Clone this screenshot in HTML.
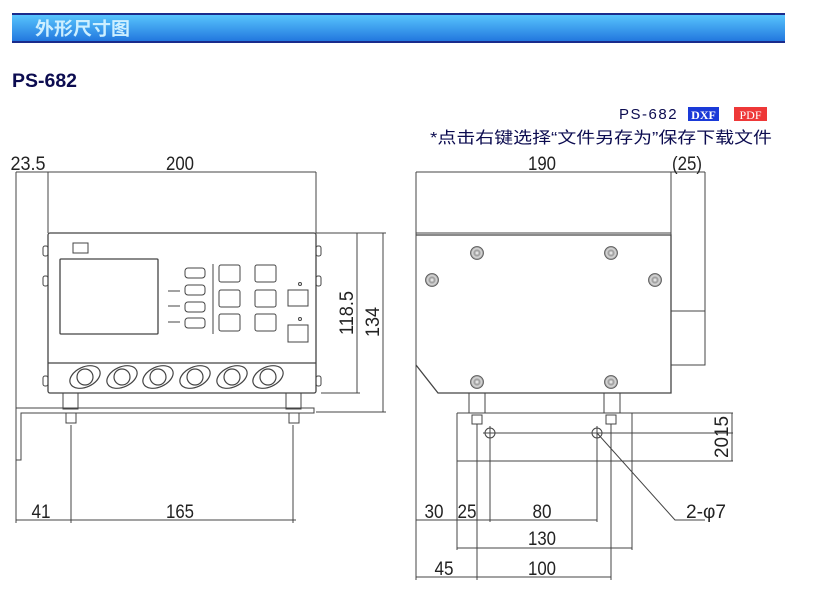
<!DOCTYPE html>
<html><head><meta charset="utf-8"><style>
body{margin:0;width:813px;height:590px;background:#fff;overflow:hidden;font-family:"Liberation Sans","Noto Sans CJK SC",sans-serif}
</style></head><body>
<svg width="813" height="590" xmlns="http://www.w3.org/2000/svg" style="position:absolute;left:0;top:0">
<defs>
<linearGradient id="hb" x1="0" y1="0" x2="0" y2="1">
<stop offset="0" stop-color="#5ccaff"/><stop offset="1" stop-color="#1e72dc"/></linearGradient>
<radialGradient id="sc"><stop offset="0" stop-color="#fff"/><stop offset="0.4" stop-color="#999"/><stop offset="0.7" stop-color="#ddd"/><stop offset="1" stop-color="#777"/></radialGradient>
</defs>
<rect x="12" y="13" width="773" height="30" fill="url(#hb)"/>
<rect x="12" y="13" width="773" height="2" fill="#1a2b8c"/>
<rect x="12" y="41" width="773" height="2" fill="#1a2b8c"/>
<text x="35" y="35" font-size="18" font-weight="bold" fill="#cdefff" textLength="95" lengthAdjust="spacingAndGlyphs" font-family="Liberation Sans,Noto Sans CJK SC,sans-serif">外形尺寸图</text>
<text x="12" y="87" font-size="19" font-weight="bold" fill="#0c0c50" textLength="65" lengthAdjust="spacingAndGlyphs">PS-682</text>
<text x="619" y="119" font-size="15" fill="#0c0c50" letter-spacing="1.5">PS-682</text>
<rect x="688" y="107" width="31" height="14" fill="#1a3ad8"/><text x="703.5" y="119" font-size="12" fill="#fff" font-weight="bold" text-anchor="middle" font-family="Liberation Serif,serif">DXF</text>
<rect x="734" y="107" width="33" height="14" fill="#ee3838"/><text x="750.5" y="119" font-size="12" fill="#fff" text-anchor="middle" font-family="Liberation Serif,serif">PDF</text>
<text x="430" y="143" font-size="16" fill="#0c0c50" textLength="342" lengthAdjust="spacingAndGlyphs" font-family="Liberation Sans,Noto Sans CJK SC,sans-serif">*点击右键选择“文件另存为”保存下载文件</text>

<g stroke="#444" stroke-width="1" fill="none">
<line x1="16" y1="172" x2="316" y2="172"/>
<line x1="16" y1="172" x2="16" y2="523"/>
<line x1="48" y1="172" x2="48" y2="233"/>
<line x1="316" y1="172" x2="316" y2="233"/>
<line x1="316" y1="233" x2="386" y2="233"/>
<line x1="321" y1="393" x2="360" y2="393"/>
<line x1="316" y1="412" x2="386" y2="412"/>
<line x1="357" y1="233" x2="357" y2="393"/>
<line x1="383" y1="233" x2="383" y2="412"/>
<line x1="16" y1="520" x2="296" y2="520"/>
<line x1="71" y1="425" x2="71" y2="523"/>
<line x1="293" y1="425" x2="293" y2="523"/>
<rect x="48" y="233" width="268" height="160" rx="2" stroke-width="1.3"/>
<line x1="48" y1="363" x2="316" y2="363" stroke-width="1.3"/>
<rect x="43" y="246" width="5" height="10" rx="2"/><rect x="43" y="276" width="5" height="10" rx="2"/><rect x="43" y="376" width="5" height="10" rx="2"/>
<rect x="316" y="246" width="5" height="10" rx="2"/><rect x="316" y="276" width="5" height="10" rx="2"/><rect x="316" y="376" width="5" height="10" rx="2"/>
<rect x="73" y="243" width="15" height="10"/>
<rect x="60" y="259" width="98" height="75" rx="1" stroke-width="1.3"/>
<rect x="185" y="268" width="20" height="10" rx="3"/><rect x="185" y="285" width="20" height="10" rx="3"/><rect x="185" y="302" width="20" height="10" rx="3"/><rect x="185" y="318" width="20" height="10" rx="3"/>
<line x1="168" y1="291" x2="180" y2="291"/><line x1="168" y1="306" x2="180" y2="306"/><line x1="168" y1="322" x2="180" y2="322"/>
<line x1="213" y1="264" x2="213" y2="334"/>
<rect x="219" y="265" width="21" height="17" rx="2"/><rect x="255" y="265" width="21" height="17" rx="2"/>
<rect x="219" y="290" width="21" height="17" rx="2"/><rect x="255" y="290" width="21" height="17" rx="2"/>
<rect x="219" y="314" width="21" height="17" rx="2"/><rect x="255" y="314" width="21" height="17" rx="2"/>
<rect x="288" y="290" width="20" height="16"/><rect x="288" y="325" width="20" height="17"/>
<circle cx="300" cy="284" r="1.5"/><circle cx="300" cy="319" r="1.5"/>
<g stroke-width="1.2">
<g transform="translate(85,377)"><ellipse rx="16" ry="10" transform="rotate(-25)"/><circle r="8"/></g>
<g transform="translate(122,377)"><ellipse rx="16" ry="10" transform="rotate(-25)"/><circle r="8"/></g>
<g transform="translate(158,377)"><ellipse rx="16" ry="10" transform="rotate(-25)"/><circle r="8"/></g>
<g transform="translate(195,377)"><ellipse rx="16" ry="10" transform="rotate(-25)"/><circle r="8"/></g>
<g transform="translate(232,377)"><ellipse rx="16" ry="10" transform="rotate(-25)"/><circle r="8"/></g>
<g transform="translate(268,377)"><ellipse rx="16" ry="10" transform="rotate(-25)"/><circle r="8"/></g>
</g>
<rect x="63" y="393" width="15" height="16"/><rect x="286" y="393" width="15" height="16"/>
<path d="M314 408 H16 V460 H21 V413 H314 Z"/>
<rect x="66" y="413" width="10" height="10"/><rect x="289" y="413" width="10" height="10"/>

<line x1="416" y1="172" x2="705" y2="172"/>
<line x1="416" y1="172" x2="416" y2="580"/>
<line x1="671" y1="172" x2="671" y2="393"/>
<line x1="705" y1="172" x2="705" y2="365"/>
<line x1="416" y1="233" x2="671" y2="233"/>
<path d="M416 235 H671 V393 H438 L416 365" stroke-width="1.3"/>
<rect x="671" y="311" width="34" height="54"/>
<rect x="469" y="393" width="16" height="20"/><rect x="604" y="393" width="16" height="20"/>
<line x1="457" y1="413" x2="733" y2="413"/>
<line x1="457" y1="461" x2="733" y2="461"/>
<line x1="457" y1="413" x2="457" y2="550"/>
<line x1="632" y1="413" x2="632" y2="550"/>
<rect x="472" y="415" width="10" height="9"/><rect x="606" y="415" width="10" height="9"/>
<line x1="477" y1="424" x2="477" y2="580"/>
<line x1="611" y1="424" x2="611" y2="580"/>
<circle cx="490" cy="433" r="5"/><line x1="483" y1="433" x2="733" y2="433"/><line x1="490" y1="426" x2="490" y2="522"/>
<circle cx="597" cy="433" r="5"/><line x1="597" y1="426" x2="597" y2="522"/>
<line x1="732" y1="413" x2="732" y2="461"/>
<path d="M597 433 L675 520 H705"/>
<line x1="416" y1="520" x2="597" y2="520"/>
<line x1="457" y1="548" x2="632" y2="548"/>
<line x1="416" y1="577" x2="611" y2="577"/>
</g>
<g fill="url(#sc)" stroke="#555" stroke-width="0.8">
<circle cx="477" cy="253" r="6.5"/><circle cx="611" cy="253" r="6.5"/><circle cx="432" cy="280" r="6.5"/><circle cx="655" cy="280" r="6.5"/><circle cx="477" cy="382" r="6.5"/><circle cx="611" cy="382" r="6.5"/>
</g>
<g font-family="Liberation Sans,sans-serif" font-size="19" fill="#222" text-anchor="middle" lengthAdjust="spacingAndGlyphs">
<text x="28" y="170" textLength="35" lengthAdjust="spacingAndGlyphs">23.5</text>
<text x="180" y="170" textLength="28" lengthAdjust="spacingAndGlyphs">200</text>
<text x="41" y="518" textLength="19" lengthAdjust="spacingAndGlyphs">41</text>
<text x="180" y="518" textLength="28" lengthAdjust="spacingAndGlyphs">165</text>
<text transform="translate(353,313) rotate(-90)" textLength="44" lengthAdjust="spacingAndGlyphs">118.5</text>
<text transform="translate(379,322) rotate(-90)" textLength="30" lengthAdjust="spacingAndGlyphs">134</text>
<text x="542" y="170" textLength="28" lengthAdjust="spacingAndGlyphs">190</text>
<text x="687" y="170" textLength="30" lengthAdjust="spacingAndGlyphs">(25)</text>
<text transform="translate(728,437) rotate(-90)" textLength="42" lengthAdjust="spacingAndGlyphs">2015</text>
<text x="434" y="518" textLength="19" lengthAdjust="spacingAndGlyphs">30</text>
<text x="467" y="518" textLength="19" lengthAdjust="spacingAndGlyphs">25</text>
<text x="542" y="518" textLength="19" lengthAdjust="spacingAndGlyphs">80</text>
<text x="706" y="518" textLength="40" lengthAdjust="spacingAndGlyphs">2-φ7</text>
<text x="542" y="545" textLength="28" lengthAdjust="spacingAndGlyphs">130</text>
<text x="444" y="575" textLength="19" lengthAdjust="spacingAndGlyphs">45</text>
<text x="542" y="575" textLength="28" lengthAdjust="spacingAndGlyphs">100</text>
</g>
</svg>
</body></html>
